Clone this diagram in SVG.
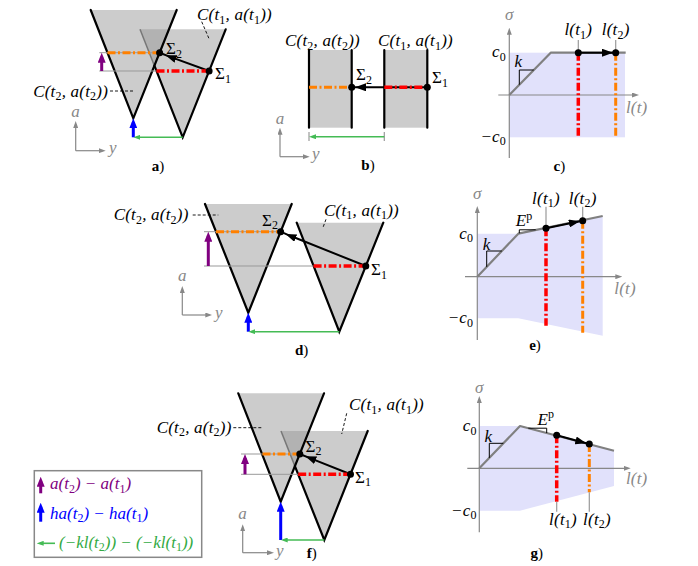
<svg xmlns="http://www.w3.org/2000/svg" width="698" height="566" viewBox="0 0 698 566">
<style>
.tri{fill:#cccccc}
.ov{fill:#b2b2b2}
.edge{stroke:#000;stroke-width:2.2;fill:none;stroke-linecap:round}
.gedge{stroke:#777;stroke-width:1.5;fill:none}
.thin{stroke:#999;stroke-width:1;fill:none}
.ax{stroke:#888;stroke-width:1.2;fill:none}
.or{stroke:#ff8000;stroke-width:3;stroke-dasharray:8 2.5 2 2.5;fill:none}
.rd{stroke:#ff0000;stroke-width:3.5;stroke-dasharray:8 2.5 2 2.5;fill:none}
.pu{stroke:#800080;stroke-width:3;fill:none}
.bl{stroke:#0000ff;stroke-width:3;fill:none}
.gr{stroke:#44bb55;stroke-width:1.6;fill:none}
.blk{stroke:#000;stroke-width:2;fill:none}
.lead{stroke:#000;stroke-width:0.9;stroke-dasharray:3 2;fill:none}
.curve{stroke:#808080;stroke-width:2.2;fill:none;stroke-linejoin:round}
.slope{stroke:#000;stroke-width:1;fill:none}
.shade{fill:#e1e1fb}
.tick{stroke:#999;stroke-width:1.2}
text{font-family:"Liberation Serif","DejaVu Serif",serif;font-size:17px}
.m{font-style:italic;letter-spacing:0.2px}
.lg{letter-spacing:0}
.sb{font-style:normal;font-size:12px}
.gt{fill:#888}
.lab{font-size:15px}
.lab .b{font-weight:bold}
</style>
<defs>
<marker id="hP" markerUnits="userSpaceOnUse" markerWidth="10" markerHeight="8" refX="6" refY="4" orient="auto"><path d="M0,0 L10,4 L0,8 z" fill="#800080"/></marker>
<marker id="hB" markerUnits="userSpaceOnUse" markerWidth="10" markerHeight="8" refX="6" refY="4" orient="auto"><path d="M0,0 L10,4 L0,8 z" fill="#0000ff"/></marker>
<marker id="hK" markerUnits="userSpaceOnUse" markerWidth="11" markerHeight="8" refX="6" refY="4" orient="auto"><path d="M0,0 L11,4 L0,8 z" fill="#000"/></marker>
<marker id="hG" markerUnits="userSpaceOnUse" markerWidth="7" markerHeight="5" refX="4" refY="2.5" orient="auto"><path d="M0,0 L7,2.5 L0,5 z" fill="#44bb55"/></marker>
<marker id="hA" markerUnits="userSpaceOnUse" markerWidth="7" markerHeight="5" refX="4" refY="2.5" orient="auto"><path d="M0,0 L7,2.5 L0,5 z" fill="#888"/></marker>
</defs>

<!-- ===== Panel a ===== -->
<g id="panel-a">
<g id="a-cones">
<polygon class="tri" points="90.7,10 176.7,10 133.3,118.3"/>
<polygon class="tri" points="140,29.3 225.7,29.3 182.7,137.3"/>
<polygon class="ov" points="140,29.3 169,29.3 154.4,65.7"/>
<line class="gedge" x1="140" y1="29.3" x2="154.4" y2="65.7"/>
<path class="edge" d="M90.7,10 L133.3,118.3 L176.7,10"/>
<path class="edge" d="M154.4,65.7 L182.7,137.3 L225.7,29.3"/>
</g>
<g id="a-connectors">
<line class="thin" x1="99.3" y1="52.7" x2="159.6" y2="52.7"/>
<line class="thin" x1="99.3" y1="71" x2="156.5" y2="71"/>
<line class="or" x1="107.5" y1="52.7" x2="159.6" y2="52.7"/>
<path class="blk" d="M209.1,71 L170.3,56.9 L159.6,52.7" marker-mid="url(#hK)"/>
<line class="rd" x1="156.5" y1="71" x2="209.1" y2="71"/>
<line class="pu" x1="101.7" y1="71" x2="101.7" y2="56.7" marker-end="url(#hP)"/>
<line class="bl" x1="133.3" y1="137.3" x2="133.3" y2="122.3" marker-end="url(#hB)"/>
<line class="gr" x1="182.7" y1="137.3" x2="136.3" y2="137.3" marker-end="url(#hG)"/>
<line class="lead" x1="110" y1="91" x2="133" y2="91"/>
<line class="lead" x1="201.7" y1="21.7" x2="209.3" y2="39.3"/>
</g>
<g id="a-sigma2"><circle cx="159.6" cy="52.7" r="3.5"/><text x="166" y="54">Σ<tspan class="sb" dy="3.5">2</tspan></text></g>
<g id="a-sigma1"><circle cx="209.1" cy="71" r="3.5"/><text x="215" y="79">Σ<tspan class="sb" dy="3.5">1</tspan></text></g>
<text class="m" x="197" y="20">C(t<tspan class="sb" dy="3.5">1</tspan><tspan dy="-3.5">, a(t</tspan><tspan class="sb" dy="3.5">1</tspan><tspan dy="-3.5">))</tspan></text>
<text class="m" x="108" y="96.5" text-anchor="end">C(t<tspan class="sb" dy="3.5">2</tspan><tspan dy="-3.5">, a(t</tspan><tspan class="sb" dy="3.5">2</tspan><tspan dy="-3.5">))</tspan></text>
<g id="a-axes">
<path class="ax" d="M75.7,150.7 L75.7,124" marker-end="url(#hA)"/>
<path class="ax" d="M75.7,150.7 L102.7,150.7" marker-end="url(#hA)"/>
<text class="m gt" x="75.7" y="117" text-anchor="middle">a</text>
<text class="m gt" x="109" y="153">y</text>
</g>
<text class="lab" x="158" y="171" text-anchor="middle"><tspan class="b">a</tspan>)</text>
</g>

<!-- ===== Panel b ===== -->
<g id="panel-b">
<g id="b-cones">
<rect class="tri" x="309" y="50" width="42.7" height="77.7"/>
<rect class="tri" x="384.3" y="50" width="43" height="77.7"/>
<path class="edge" d="M309,50 L309,127.7 M351.7,50 L351.7,127.7 M384.3,50 L384.3,127.7 M427.3,50 L427.3,127.7"/>
</g>
<g id="b-connectors">
<line class="or" x1="309" y1="87.3" x2="351.7" y2="87.3"/>
<path class="blk" d="M427.3,87.3 L360,87.3 L351.7,87.3" marker-mid="url(#hK)"/>
<line class="rd" x1="384.3" y1="87.3" x2="427.3" y2="87.3"/>
<line class="tick" x1="309" y1="132" x2="309" y2="141"/>
<line class="tick" x1="384.3" y1="132" x2="384.3" y2="141"/>
<line class="gr" x1="384.3" y1="136.7" x2="312" y2="136.7" marker-end="url(#hG)"/>
</g>
<g id="b-sigma2"><circle cx="351.7" cy="87.3" r="3.5"/><text x="356" y="80">Σ<tspan class="sb" dy="3.5">2</tspan></text></g>
<g id="b-sigma1"><circle cx="427.3" cy="87.3" r="3.5"/><text x="432" y="83">Σ<tspan class="sb" dy="3.5">1</tspan></text></g>
<text class="m" x="285" y="46">C(t<tspan class="sb" dy="3.5">2</tspan><tspan dy="-3.5">, a(t</tspan><tspan class="sb" dy="3.5">2</tspan><tspan dy="-3.5">))</tspan></text>
<text class="m" x="378" y="46">C(t<tspan class="sb" dy="3.5">1</tspan><tspan dy="-3.5">, a(t</tspan><tspan class="sb" dy="3.5">1</tspan><tspan dy="-3.5">))</tspan></text>
<g id="b-axes">
<path class="ax" d="M280,156.7 L280,130.7" marker-end="url(#hA)"/>
<path class="ax" d="M280,156.7 L306.7,156.7" marker-end="url(#hA)"/>
<text class="m gt" x="280" y="124" text-anchor="middle">a</text>
<text class="m gt" x="312" y="159">y</text>
</g>
<text class="lab" x="368" y="170" text-anchor="middle"><tspan class="b">b</tspan>)</text>
</g>

<!-- ===== Panel c ===== -->
<g id="panel-c">
<rect class="shade" x="509.3" y="52.7" width="115.7" height="84.6"/>
<path class="ax" d="M509.3,158 L509.3,30.7" marker-end="url(#hA)"/>
<path class="ax" d="M498.3,95 L636,95" marker-end="url(#hA)"/>
<path class="curve" d="M509.3,95 L550.7,52.7 L625.7,52.7"/>
<path class="slope" d="M519.3,84.7 L519.3,70 L533.7,70"/>
<line class="rd" x1="578.3" y1="52.7" x2="578.3" y2="137.3"/>
<line class="or" x1="615.7" y1="52.7" x2="615.7" y2="137.3"/>
<line class="tick" x1="578.3" y1="40" x2="578.3" y2="52.7"/>
<line class="tick" x1="615.7" y1="40" x2="615.7" y2="52.7"/>
<path class="blk" d="M578.3,52.7 L608,52.7 L615.7,52.7" marker-mid="url(#hK)"/>
<circle cx="578.3" cy="52.7" r="3.5"/>
<circle cx="615.7" cy="52.7" r="3.5"/>
<text class="m" x="578.3" y="35" text-anchor="middle">l(t<tspan class="sb" dy="3.5">1</tspan><tspan dy="-3.5">)</tspan></text>
<text class="m" x="615.7" y="35" text-anchor="middle">l(t<tspan class="sb" dy="3.5">2</tspan><tspan dy="-3.5">)</tspan></text>
<text class="m gt" x="509.3" y="20" text-anchor="middle">σ</text>
<text class="m gt" x="636.7" y="113" text-anchor="middle">l(t)</text>
<text class="m" x="518.3" y="67" text-anchor="middle">k</text>
<text class="m" x="506" y="57" text-anchor="end">c<tspan class="sb" dy="3.5">0</tspan></text>
<text class="m" x="506" y="141.5" text-anchor="end">−c<tspan class="sb" dy="3.5">0</tspan></text>
<text class="lab" x="559.3" y="171" text-anchor="middle"><tspan class="b">c</tspan>)</text>
</g>

<!-- ===== Panel d ===== -->
<g id="panel-d">
<g id="d-cones">
<polygon class="tri" points="205,204 291.7,204 248.3,312.7"/>
<polygon class="tri" points="296.7,222.7 383.3,222.7 339.3,331.7"/>
<path class="edge" d="M205,204 L248.3,312.7 L291.7,204"/>
<path class="edge" d="M296.7,222.7 L339.3,331.7 L383.3,222.7"/>
</g>
<g id="d-connectors">
<line class="thin" x1="204" y1="231.7" x2="280.6" y2="231.7"/>
<line class="thin" x1="204" y1="266" x2="313.6" y2="266"/>
<line class="or" x1="216" y1="231.7" x2="280.6" y2="231.7"/>
<path class="blk" d="M365.8,266 L290.2,235.8 L280.6,231.7" marker-mid="url(#hK)"/>
<line class="rd" x1="313.6" y1="266" x2="365.8" y2="266"/>
<line class="pu" x1="208.3" y1="266" x2="208.3" y2="235.7" marker-end="url(#hP)"/>
<line class="bl" x1="248.3" y1="331.7" x2="248.3" y2="316.7" marker-end="url(#hB)"/>
<line class="gr" x1="339.3" y1="331.7" x2="251.3" y2="331.7" marker-end="url(#hG)"/>
<line class="lead" x1="192.7" y1="215" x2="218.3" y2="215"/>
<line class="lead" x1="326" y1="219.3" x2="322.7" y2="228.3"/>
</g>
<g id="d-sigma2"><circle cx="280.6" cy="231.7" r="3.5"/><text x="262" y="225.5">Σ<tspan class="sb" dy="3.5">2</tspan></text></g>
<g id="d-sigma1"><circle cx="365.8" cy="266" r="3.5"/><text x="371" y="275">Σ<tspan class="sb" dy="3.5">1</tspan></text></g>
<text class="m" x="188.5" y="220" text-anchor="end">C(t<tspan class="sb" dy="3.5">2</tspan><tspan dy="-3.5">, a(t</tspan><tspan class="sb" dy="3.5">2</tspan><tspan dy="-3.5">))</tspan></text>
<text class="m" x="324" y="215.5">C(t<tspan class="sb" dy="3.5">1</tspan><tspan dy="-3.5">, a(t</tspan><tspan class="sb" dy="3.5">1</tspan><tspan dy="-3.5">))</tspan></text>
<g id="d-axes">
<path class="ax" d="M182.3,315 L182.3,289" marker-end="url(#hA)"/>
<path class="ax" d="M182.3,315 L209.3,315" marker-end="url(#hA)"/>
<text class="m gt" x="182.3" y="281" text-anchor="middle">a</text>
<text class="m gt" x="215" y="318">y</text>
</g>
<text class="lab" x="301.7" y="355" text-anchor="middle"><tspan class="b">d</tspan>)</text>
</g>

<!-- ===== Panel e ===== -->
<g id="panel-e">
<polygon class="shade" points="477.3,233.7 518.3,233.7 602.7,216 602.7,335.7 518.3,318.3 477.3,318.3"/>
<path class="ax" d="M477.3,340 L477.3,209" marker-end="url(#hA)"/>
<path class="ax" d="M465,276.7 L619.3,276.7" marker-end="url(#hA)"/>
<path class="curve" d="M477.3,276.7 L518.3,233.7 L602.7,216"/>
<path class="slope" d="M486.7,266.9 L486.7,251 L501.8,251"/>
<path class="slope" d="M519.3,233.3 L519.3,229.8 L535.7,229.8"/>
<line class="rd" x1="546" y1="228.3" x2="546" y2="325.7"/>
<line class="or" x1="582.7" y1="220.7" x2="582.7" y2="332.7"/>
<line class="tick" x1="546" y1="206.7" x2="546" y2="228.3"/>
<line class="tick" x1="582.7" y1="206.7" x2="582.7" y2="220.7"/>
<path class="blk" d="M546,228.3 L574.9,222.3 L582.7,220.7" marker-mid="url(#hK)"/>
<circle cx="546" cy="228.3" r="3.5"/>
<circle cx="582.7" cy="220.7" r="3.5"/>
<text class="m" x="546" y="203.5" text-anchor="middle">l(t<tspan class="sb" dy="3.5">1</tspan><tspan dy="-3.5">)</tspan></text>
<text class="m" x="582.7" y="203.5" text-anchor="middle">l(t<tspan class="sb" dy="3.5">2</tspan><tspan dy="-3.5">)</tspan></text>
<text class="m gt" x="477.3" y="199" text-anchor="middle">σ</text>
<text class="m gt" x="625" y="293.5" text-anchor="middle">l(t)</text>
<text class="m" x="486.7" y="250" text-anchor="middle">k</text>
<text class="m" x="515.7" y="226">E<tspan class="sb" font-style="italic" dy="-6.5">p</tspan></text>
<text class="m" x="473.3" y="238.5" text-anchor="end">c<tspan class="sb" dy="3.5">0</tspan></text>
<text class="m" x="473.3" y="323" text-anchor="end">−c<tspan class="sb" dy="3.5">0</tspan></text>
<text class="lab" x="535" y="350" text-anchor="middle"><tspan class="b">e</tspan>)</text>
</g>

<!-- ===== Panel f ===== -->
<g id="panel-f">
<g id="f-cones">
<polygon class="tri" points="238.3,393.3 324,393.3 280.7,501.7"/>
<polygon class="tri" points="281,431 367.7,431 324.3,540"/>
<polygon class="ov" points="281,431 308.9,431 294.9,466.1"/>
<line class="gedge" x1="281" y1="431" x2="294.9" y2="466.1"/>
<path class="edge" d="M238.3,393.3 L280.7,501.7 L324,393.3"/>
<path class="edge" d="M294.9,466.1 L324.3,540 L367.7,431"/>
</g>
<g id="f-connectors">
<line class="thin" x1="241" y1="454" x2="299.8" y2="454"/>
<line class="thin" x1="241" y1="474.3" x2="298.2" y2="474.3"/>
<line class="or" x1="262.5" y1="454" x2="299.8" y2="454"/>
<path class="blk" d="M350.5,474.3 L310,458.1 L299.8,454" marker-mid="url(#hK)"/>
<line class="rd" x1="298.2" y1="474.3" x2="350.5" y2="474.3"/>
<line class="pu" x1="245" y1="474.3" x2="245" y2="458" marker-end="url(#hP)"/>
<line class="bl" x1="280.7" y1="540" x2="280.7" y2="505.7" marker-end="url(#hB)"/>
<line class="gr" x1="324.3" y1="540" x2="283.7" y2="540" marker-end="url(#hG)"/>
<line class="lead" x1="233.3" y1="427.7" x2="261.7" y2="427.7"/>
<line class="lead" x1="346.7" y1="413.3" x2="341.7" y2="434"/>
</g>
<g id="f-sigma2"><circle cx="299.8" cy="454" r="3.5"/><text x="305.5" y="451.5">Σ<tspan class="sb" dy="3.5">2</tspan></text></g>
<g id="f-sigma1"><circle cx="350.5" cy="474.3" r="3.5"/><text x="355" y="482.5">Σ<tspan class="sb" dy="3.5">1</tspan></text></g>
<text class="m" x="231.5" y="432.5" text-anchor="end">C(t<tspan class="sb" dy="3.5">2</tspan><tspan dy="-3.5">, a(t</tspan><tspan class="sb" dy="3.5">2</tspan><tspan dy="-3.5">))</tspan></text>
<text class="m" x="349" y="410">C(t<tspan class="sb" dy="3.5">1</tspan><tspan dy="-3.5">, a(t</tspan><tspan class="sb" dy="3.5">1</tspan><tspan dy="-3.5">))</tspan></text>
<g id="f-axes">
<path class="ax" d="M242.7,552.7 L242.7,527.3" marker-end="url(#hA)"/>
<path class="ax" d="M242.7,552.7 L271,552.7" marker-end="url(#hA)"/>
<text class="m gt" x="242.7" y="519" text-anchor="middle">a</text>
<text class="m gt" x="276" y="556">y</text>
</g>
<text class="lab" x="311.7" y="558" text-anchor="middle"><tspan class="b">f</tspan>)</text>
</g>

<!-- ===== Panel g ===== -->
<g id="panel-g">
<polygon class="shade" points="479.3,426 520,426 614,450.7 614,486 520,510.7 479.3,510.7"/>
<path class="ax" d="M479.3,532.3 L479.3,399" marker-end="url(#hA)"/>
<path class="ax" d="M467.3,468.3 L627.7,468.3" marker-end="url(#hA)"/>
<path class="curve" d="M479.3,468.3 L520,426 L614,450.7"/>
<path class="slope" d="M489.3,457.9 L489.3,443.3 L503.3,443.3"/>
<path class="slope" d="M528.3,428.2 L546.7,428.2 L546.7,433"/>
<line class="rd" x1="556.7" y1="435.3" x2="556.7" y2="501.7"/>
<line class="or" x1="589.3" y1="444" x2="589.3" y2="492.3"/>
<line class="tick" x1="556.7" y1="501.7" x2="556.7" y2="511.7"/>
<line class="tick" x1="589.3" y1="492.3" x2="589.3" y2="511.7"/>
<path class="blk" d="M556.7,435.3 L581.5,442 L589.3,444" marker-mid="url(#hK)"/>
<circle cx="556.7" cy="435.3" r="3.5"/>
<circle cx="589.3" cy="444" r="3.5"/>
<text class="m" x="563" y="524.5" text-anchor="middle">l(t<tspan class="sb" dy="3.5">1</tspan><tspan dy="-3.5">)</tspan></text>
<text class="m" x="597" y="524.5" text-anchor="middle">l(t<tspan class="sb" dy="3.5">2</tspan><tspan dy="-3.5">)</tspan></text>
<text class="m gt" x="479.3" y="392.5" text-anchor="middle">σ</text>
<text class="m gt" x="636.7" y="483.5" text-anchor="middle">l(t)</text>
<text class="m" x="488.3" y="441.5" text-anchor="middle">k</text>
<text class="m" x="537.5" y="424.5">E<tspan class="sb" font-style="italic" dy="-6.5">p</tspan></text>
<text class="m" x="476.7" y="431" text-anchor="end">c<tspan class="sb" dy="3.5">0</tspan></text>
<text class="m" x="476.7" y="515.5" text-anchor="end">−c<tspan class="sb" dy="3.5">0</tspan></text>
<text class="lab" x="536.7" y="558" text-anchor="middle"><tspan class="b">g</tspan>)</text>
</g>

<!-- ===== Legend ===== -->
<g id="legend">
<rect x="34.3" y="470.7" width="167.4" height="86.6" fill="#fff" stroke="#888" stroke-width="1.5"/>
<line class="pu" x1="40.7" y1="493.3" x2="40.7" y2="480.7" marker-end="url(#hP)"/>
<text class="m lg" x="50" y="489" fill="#800080">a(t<tspan class="sb" dy="3.5">2</tspan><tspan dy="-3.5">) − a(t</tspan><tspan class="sb" dy="3.5">1</tspan><tspan dy="-3.5">)</tspan></text>
<line class="bl" x1="40.7" y1="521.7" x2="40.7" y2="506.7" marker-end="url(#hB)"/>
<text class="m lg" x="50" y="518.5" fill="#0000ff">ha(t<tspan class="sb" dy="3.5">2</tspan><tspan dy="-3.5">) − ha(t</tspan><tspan class="sb" dy="3.5">1</tspan><tspan dy="-3.5">)</tspan></text>
<line class="gr" x1="55" y1="543.3" x2="39.7" y2="543.3" marker-end="url(#hG)"/>
<text class="m lg" x="59" y="547.5" fill="#33aa44">(−kl(t<tspan class="sb" dy="3.5">2</tspan><tspan dy="-3.5">)) − (−kl(t</tspan><tspan class="sb" dy="3.5">1</tspan><tspan dy="-3.5">))</tspan></text>
</g>
</svg>
